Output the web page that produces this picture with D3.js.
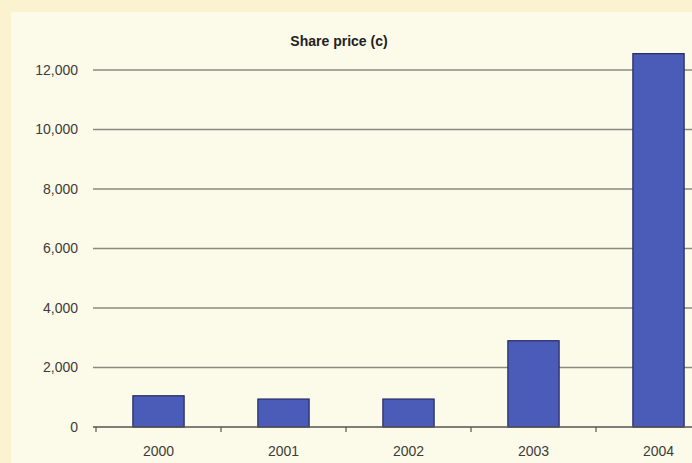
<!DOCTYPE html>
<html>
<head>
<meta charset="utf-8">
<script src="https://cdn.jsdelivr.net/npm/d3@7"></script>
<style>
  html, body { margin: 0; padding: 0; background: #fbf4d2; }
  svg { display: block; }
</style>
</head>
<body>
<svg id="chart" width="692" height="463"></svg>
<script>
// Share price by year, in cents
const years = ["2000", "2001", "2002", "2003", "2004"];
const prices = [1050, 940, 940, 2900, 12550];
const yTicks = [0, 2000, 4000, 6000, 8000, 10000, 12000];
const title = "Share price (c)";

const svg = d3.select("#chart");
const W = 692, H = 463;
const font = "Liberation Sans, Arial, sans-serif";

// paper background with a lighter inner panel
svg.append("rect").attr("x", 0).attr("y", 0).attr("width", W).attr("height", H).attr("fill", "#fbf3cf");
svg.append("rect").attr("x", 11).attr("y", 12).attr("width", W - 11).attr("height", H - 12).attr("fill", "#fcfae9");

const x = d3.scaleBand().domain(years).range([96, 721]).paddingInner(0.59).paddingOuter(0.295);
const y = d3.scaleLinear().domain([0, 12000]).range([427, 70]);

// horizontal gridlines
svg.append("g")
  .selectAll("line")
  .data(yTicks.filter(d => d > 0))
  .join("line")
  .attr("x1", 93).attr("x2", W)
  .attr("y1", d => y(d)).attr("y2", d => y(d))
  .attr("stroke", "#8a8a80").attr("stroke-width", 1.4);

// y tick labels
const yAxis = d3.axisLeft(y).tickValues(yTicks).tickSize(0).tickPadding(0)
  .tickFormat(d3.format(","));
const gy = svg.append("g").attr("transform", "translate(78,0)").call(yAxis);
gy.select(".domain").remove();
gy.selectAll("text")
  .attr("font-family", font)
  .attr("font-size", 14).attr("fill", "#3c3c3c");

// bars
svg.append("g")
  .selectAll("rect")
  .data(years.map((d, i) => ({ year: d, value: prices[i] })))
  .join("rect")
  .attr("x", d => x(d.year))
  .attr("y", d => y(d.value))
  .attr("width", x.bandwidth())
  .attr("height", d => y(0) - y(d.value))
  .attr("fill", "#4b5cb8")
  .attr("stroke", "#262a63").attr("stroke-width", 1.2);

// category axis with ticks at band boundaries
const axisY = y(0);
svg.append("line")
  .attr("x1", 93).attr("x2", W).attr("y1", axisY).attr("y2", axisY)
  .attr("stroke", "#555550").attr("stroke-width", 1.5);
svg.append("g")
  .selectAll("line")
  .data(years)
  .join("line")
  .attr("x1", d => x(d) - (x.step() - x.bandwidth()) / 2)
  .attr("x2", d => x(d) - (x.step() - x.bandwidth()) / 2)
  .attr("y1", axisY).attr("y2", axisY + 5)
  .attr("stroke", "#555550").attr("stroke-width", 1.2);

svg.append("g")
  .selectAll("text")
  .data(years)
  .join("text")
  .attr("x", d => x(d) + x.bandwidth() / 2)
  .attr("y", axisY + 29)
  .attr("text-anchor", "middle")
  .attr("font-family", font)
  .attr("font-size", 14).attr("fill", "#3c3c3c")
  .text(d => d);

// chart title
svg.append("text")
  .attr("x", 339).attr("y", 46)
  .attr("text-anchor", "middle")
  .attr("font-family", font)
  .attr("font-weight", "bold")
  .attr("font-size", 14).attr("fill", "#222")
  .text(title);
</script>
</body>
</html>
